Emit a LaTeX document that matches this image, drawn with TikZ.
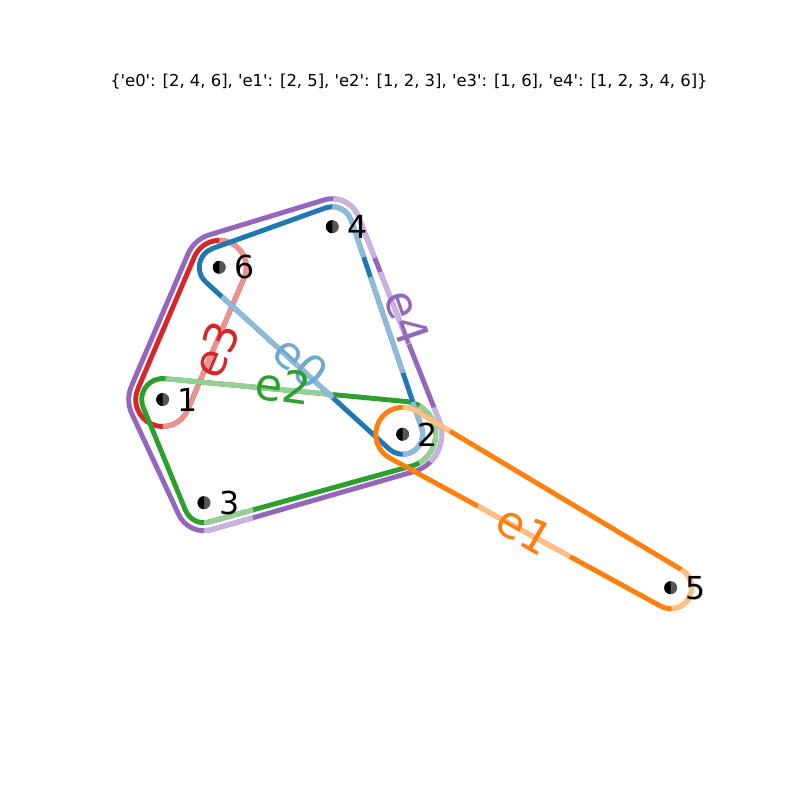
\documentclass[tikz,border=0pt]{standalone}
\usepackage{fontspec}
\setmainfont{DejaVu Sans}
\newfontfamily\plainfont{DejaVu Sans}
\usetikzlibrary{calc}
\definecolor{tblue}{HTML}{1F77B4}
\definecolor{torange}{HTML}{FF7F0E}
\definecolor{tgreen}{HTML}{2CA02C}
\definecolor{tred}{HTML}{D62728}
\definecolor{tpurple}{HTML}{9467BD}
\definecolor{lightblue}{HTML}{8FBBD9}
\definecolor{lightorange}{HTML}{FFBF86}
\definecolor{lightgreen}{HTML}{95CF95}
\definecolor{lightred}{HTML}{EA9191}
\definecolor{lightpurple}{HTML}{C9B3DE}
\definecolor{lblue}{HTML}{6FA8D0}
\definecolor{dotgray}{HTML}{555555}
\begin{document}
\begin{tikzpicture}[x=0.3mm,y=-0.3mm,
  hull/.style={line width=4.2pt, line join=round},
  lite/.style={line width=4.2pt, line cap=butt},
  vlabel/.style={anchor=west, inner sep=0pt, font=\fontsize{27}{27}\selectfont},
  elabel/.style={inner sep=0pt, font=\fontsize{38}{38}\selectfont}]
\useasboundingbox (0,0) rectangle (800,800);
\fill[white] (0,0) rectangle (800,800);
\node (title) at (409,82) {\plainfont\fontsize{14}{14}\selectfont \{'e0': [2, 4, 6], 'e1': [2, 5], 'e2': [1, 2, 3], 'e3': [1, 6], 'e4': [1, 2, 3, 4, 6]\}};
\coordinate (n1) at (162.7,399.5);
\coordinate (n2) at (402.7,434.3);
\coordinate (n3) at (204,502.7);
\coordinate (n4) at (332.3,226.7);
\coordinate (n5) at (670.7,587.7);
\coordinate (n6) at (219.3,267.3);
% ---------- e4 (purple)
\draw[hull, tpurple] ($(n4)+(-109.77:28)$) arc[start angle=-109.77,end angle=-18.73,radius=28]
  -- ($(n2)+(-18.73:39)$) arc[start angle=-18.73,end angle=71.01,radius=39]
  -- ($(n3)+(71.01:28)$) arc[start angle=71.01,end angle=158.19,radius=28]
  -- ($(n1)+(158.19:34)$) arc[start angle=158.19,end angle=203.17,radius=34]
  -- ($(n6)+(203.17:34)$) arc[start angle=203.17,end angle=250.23,radius=34] -- cycle;
\coordinate (p42a) at ($(n4)+(-18.73:28)$);
\coordinate (p42b) at ($(n2)+(-18.73:39)$);
\coordinate (p23a) at ($(n2)+(71.01:39)$);
\coordinate (p23b) at ($(n3)+(71.01:28)$);
\draw[lite, lightpurple] ($(n4)+(-88:28)$) arc[start angle=-88,end angle=-18.73,radius=28] -- ($(p42a)!0.197!(p42b)$);
\draw[lite, lightpurple] ($(p42a)!0.266!(p42b)$) -- ($(p42a)!0.62!(p42b)$);
\draw[lite, lightpurple] ($(p42a)!0.93!(p42b)$) -- (p42b) arc[start angle=-18.73,end angle=45,radius=39];
\draw[lite, lightpurple] ($(p23a)!0.803!(p23b)$) -- (p23b) arc[start angle=71.01,end angle=90,radius=28];
% ---------- e3 (red)
\draw[hull, tred] ($(n6)+(-156.83:27)$) arc[start angle=-156.83,end angle=23.17,radius=27]
  -- ($(n1)+(23.17:27)$) arc[start angle=23.17,end angle=203.17,radius=27] -- cycle;
\draw[lite, lightred] ($(n6)+(-90:27)$) arc[start angle=-90,end angle=23.17,radius=27]
  -- ($(n1)+(23.17:27)$) arc[start angle=23.17,end angle=90,radius=27];
% ---------- e2 (green)
\draw[hull, tgreen] ($(n2)+(-81.75:33)$) arc[start angle=-81.75,end angle=71.01,radius=33]
  -- ($(n3)+(71.01:20)$) arc[start angle=71.01,end angle=158.19,radius=20]
  -- ($(n1)+(158.19:21)$) arc[start angle=158.19,end angle=278.25,radius=21] -- cycle;
\coordinate (g12a) at ($(n1)+(-81.75:21)$);
\coordinate (g12b) at ($(n2)+(-81.75:33)$);
\coordinate (g23a) at ($(n2)+(71.01:33)$);
\coordinate (g23b) at ($(n3)+(71.01:20)$);
\draw[lite, lightgreen] (g12a) -- ($(g12a)!0.692!(g12b)$);
\draw[lite, lightgreen] ($(n2)+(-60:33)$) arc[start angle=-60,end angle=60,radius=33];
\draw[lite, lightgreen] ($(g23a)!0.79!(g23b)$) -- (g23b) arc[start angle=71.01,end angle=90,radius=20];
% ---------- e0 (blue)
\draw[hull, tblue] ($(n4)+(-109.77:20)$) arc[start angle=-109.77,end angle=-18.73,radius=20]
  -- ($(n2)+(-18.73:20)$) arc[start angle=-18.73,end angle=132.32,radius=20]
  -- ($(n6)+(132.32:20)$) arc[start angle=132.32,end angle=250.23,radius=20] -- cycle;
\coordinate (b42a) at ($(n4)+(-18.73:20)$);
\coordinate (b42b) at ($(n2)+(-18.73:20)$);
\coordinate (b26a) at ($(n2)+(132.32:20)$);
\coordinate (b26b) at ($(n6)+(132.32:20)$);
\draw[lite, lightblue] ($(n4)+(-90:20)$) arc[start angle=-90,end angle=-18.73,radius=20] -- ($(b42a)!0.177!(b42b)$);
\draw[lite, lightblue] ($(b42a)!0.273!(b42b)$) -- ($(b42a)!0.735!(b42b)$);
\draw[lite, lightblue] ($(b42a)!0.875!(b42b)$) -- (b42b) arc[start angle=-18.73,end angle=90,radius=20];
\draw[lite, lightblue] ($(b26a)!0.307!(b26b)$) -- ($(b26a)!0.912!(b26b)$);
% ---------- e1 (orange)
\draw[hull, torange] ($(n5)+(-60.21:21)$) arc[start angle=-60.21,end angle=119.79,radius=21]
  -- ($(n2)+(119.79:27)$) arc[start angle=119.79,end angle=299.79,radius=27] -- cycle;
\coordinate (o25a) at ($(n2)+(-60.21:27)$);
\coordinate (o25b) at ($(n5)+(-60.21:21)$);
\coordinate (o52a) at ($(n5)+(119.79:21)$);
\coordinate (o52b) at ($(n2)+(119.79:27)$);
\draw[lite, lightorange] ($(n2)+(270:27)$) arc[start angle=270,end angle=299.79,radius=27] -- ($(o25a)!0.128!(o25b)$);
\draw[lite, lightorange] (o25b) arc[start angle=-60.21,end angle=88,radius=21];
\draw[lite, lightorange] ($(o52a)!0.333!(o52b)$) -- ($(o52a)!0.673!(o52b)$);
% ---------- edge labels
\node[elabel, text=lblue, rotate=-42.3] (le0) at (301,362) {e0};
\node[elabel, text=torange, rotate=-29.8] (le1) at (525,530) {e1};
\node[elabel, text=tgreen, rotate=-8.25] (le2) at (283,386) {e2};
\node[elabel, text=tred, rotate=66.8] (le3) at (216,350) {e3};
\node[elabel, text=tpurple, rotate=-71.3] (le4) at (407,318) {e4};
% ---------- vertices
\foreach \i in {1,...,6}{
  \fill[dotgray] (n\i) circle[radius=6.5];
  \fill[black] ($(n\i)+(90:6.5)$) arc[start angle=90,end angle=270,radius=6.5] -- cycle;
  \node[vlabel] (l\i) at ($(n\i)+(15,0)$) {\i};
}
\end{tikzpicture}
\end{document}
